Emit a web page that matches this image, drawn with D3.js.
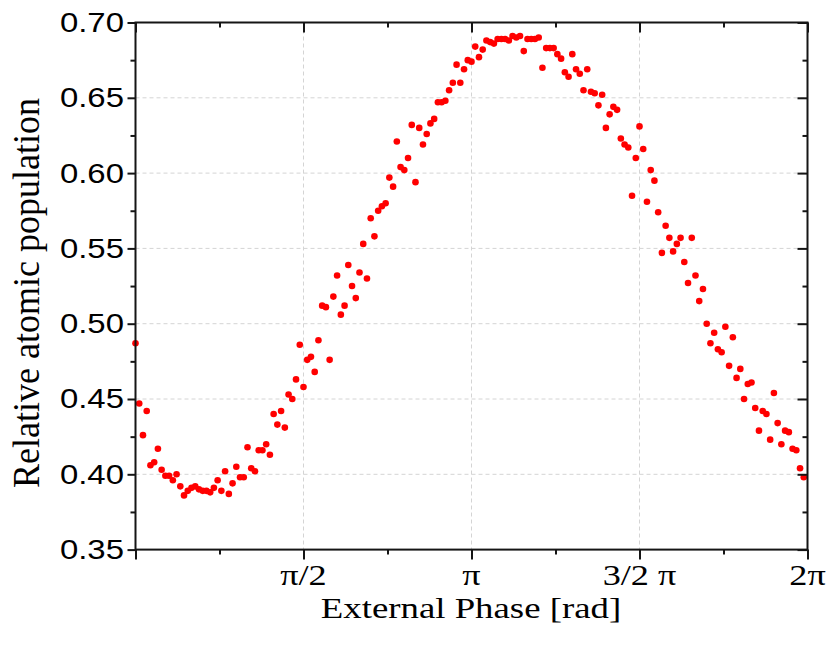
<!DOCTYPE html>
<html><head><meta charset="utf-8">
<script src="https://cdn.jsdelivr.net/npm/d3@7"></script>
<style>body{margin:0;background:#fff}</style>
</head><body><svg id="c" width="832" height="646"></svg>
<script>
const phaseDeg = [0,2,4,6,8,10,12,14,16,18,20,22,24,26,28,30,32,34,36,38,40,42,44,46,48,50,52,54,56,58,
60,62,64,66,68,70,72,74,76,78,80,82,84,86,88,90,92,94,96,98,100,102,104,106,108,110,112,114,116,118,
120,122,124,126,128,130,132,134,136,138,140,142,144,146,148,150,152,154,156,158,160,162,164,166,168,170,172,174,176,178,
180,182,184,186,188,190,192,194,196,198,200,202,204,206,208,210,212,214,216,218,220,222,224,226,228,230,232,234,236,238,
240,242,244,246,248,250,252,254,256,258,260,262,264,266,268,270,272,274,276,278,280,282,284,286,288,290,292,294,296,298,
300,302,304,306,308,310,312,314,316,318,320,322,324,326,328,330,332,334,336,338,340,342,344,346,348,350,352,354,356,358];
const population = [0.487,0.447,0.426,0.442,0.406,0.408,0.417,0.403,0.399,0.399,
0.396,0.400,0.392,0.386,0.389,0.391,0.392,0.390,0.389,0.389,
0.388,0.391,0.396,0.389,0.402,0.387,0.394,0.405,0.398,0.398,
0.418,0.404,0.402,0.416,0.416,0.420,0.413,0.440,0.433,0.442,
0.431,0.453,0.450,0.463,0.486,0.458,0.476,0.478,0.468,0.489,
0.512,0.511,0.476,0.518,0.532,0.506,0.512,0.539,0.525,0.517,
0.534,0.553,0.530,0.570,0.558,0.575,0.578,0.580,0.597,0.591,
0.621,0.604,0.602,0.610,0.632,0.594,0.630,0.619,0.626,0.633,
0.636,0.647,0.647,0.648,0.655,0.660,0.672,0.660,0.669,0.675,
0.674,0.684,0.677,0.682,0.688,0.687,0.686,0.689,0.689,0.689,
0.688,0.691,0.690,0.691,0.681,0.689,0.689,0.689,0.690,0.670,
0.683,0.683,0.683,0.679,0.676,0.667,0.664,0.679,0.669,0.666,
0.655,0.669,0.654,0.653,0.645,0.652,0.630,0.639,0.644,0.642,
0.623,0.619,0.617,0.585,0.610,0.631,0.616,0.581,0.602,0.595,
0.574,0.547,0.565,0.557,0.548,0.553,0.557,0.541,0.527,0.557,
0.532,0.515,0.523,0.500,0.487,0.494,0.483,0.481,0.498,0.472,
0.491,0.464,0.470,0.450,0.460,0.461,0.444,0.429,0.442,0.440,
0.423,0.454,0.434,0.420,0.429,0.428,0.417,0.416,0.404,0.398];
const xTickValues = [0,90,180,270,360];
const xTickLabels = ["","π/2","π","3/2 π","2π"];
const xMinorTicks = [45,135,225,315];
const yTickValues = [0.35,0.40,0.45,0.50,0.55,0.60,0.65,0.70];
const yMinorTicks = [0.375,0.425,0.475,0.525,0.575,0.625,0.675];
const xTitle = "External Phase [rad]";
const yTitle = "Relative atomic population";

const svg = d3.select("#c");
const L=135.5, R=807.5, T=22.5, B=549.6;
const x = d3.scaleLinear().domain([0,360]).range([L,R]);
const y = d3.scaleLinear().domain([0.35,0.70]).range([B,T]);
const axisColor = "#151515";

// grid
const grid = svg.append("g");
grid.selectAll("line.gx").data(xTickValues.slice(1,-1)).join("line").attr("class","gx")
  .attr("x1",d=>x(d)).attr("x2",d=>x(d)).attr("y1",T).attr("y2",B);
grid.selectAll("line.gy").data(yTickValues.slice(1,-1)).join("line").attr("class","gy")
  .attr("x1",L).attr("x2",R).attr("y1",d=>y(d)).attr("y2",d=>y(d));
grid.selectAll("line").attr("stroke","#d4d4d4").attr("stroke-width",1).attr("stroke-dasharray","4,3");

// points
svg.append("g").selectAll("circle")
  .data(phaseDeg.map((p,i)=>({p, v: population[i]})))
  .join("circle")
  .attr("cx",d=>x(d.p)).attr("cy",d=>y(d.v)).attr("r",3.3).attr("fill","#ff0000");

// axes (ticks only)
function addAxis(gen, tr){
  const g = svg.append("g").attr("transform",tr).call(gen);
  g.select(".domain").remove();
  g.selectAll("text").remove();
  g.selectAll("line").attr("stroke",axisColor).attr("stroke-width",2);
  return g;
}
addAxis(d3.axisBottom(x).tickValues(xTickValues).tickSize(10), `translate(0,${B})`);
addAxis(d3.axisBottom(x).tickValues(xMinorTicks).tickSize(5), `translate(0,${B})`);
addAxis(d3.axisTop(x).tickValues(xTickValues).tickSize(-10), `translate(0,${T})`);
addAxis(d3.axisTop(x).tickValues(xMinorTicks).tickSize(-5), `translate(0,${T})`);
addAxis(d3.axisLeft(y).tickValues(yTickValues).tickSize(8), `translate(${L},0)`);
addAxis(d3.axisLeft(y).tickValues(yMinorTicks).tickSize(5), `translate(${L},0)`);
addAxis(d3.axisRight(y).tickValues(yTickValues).tickSize(-10), `translate(${R},0)`);
addAxis(d3.axisRight(y).tickValues(yMinorTicks).tickSize(-5), `translate(${R},0)`);

// frame
svg.append("rect").attr("x",L).attr("y",T).attr("width",R-L).attr("height",B-T)
  .attr("fill","none").attr("stroke",axisColor).attr("stroke-width",2);

// y tick labels
const fmt = d3.format(".2f");
svg.append("g").selectAll("text").data(yTickValues).join("text")
  .attr("transform",d=>`translate(124,${y(d)}) scale(1.22,1)`)
  .attr("text-anchor","end").attr("dominant-baseline","central")
  .attr("font-family","'Liberation Sans', Arial, sans-serif").attr("font-size",27)
  .attr("fill","#000").text(d=>fmt(d));

// x tick labels
svg.append("g").selectAll("text").data(xTickValues.map((v,i)=>({v,l:xTickLabels[i]})).filter(d=>d.l))
  .join("text")
  .attr("transform",d=>`translate(${x(d.v)},585) scale(1.25,1)`)
  .attr("text-anchor","middle")
  .attr("font-family","'Liberation Serif', 'Times New Roman', serif").attr("font-size",29)
  .attr("fill","#000").text(d=>d.l);

// titles
svg.append("text").attr("transform",`translate(471,618) scale(1.27,1)`)
  .attr("text-anchor","middle")
  .attr("font-family","'Liberation Serif', 'Times New Roman', serif").attr("font-size",29)
  .attr("fill","#000").text(xTitle);
svg.append("text").attr("transform",`translate(39,293) scale(1.05,1) rotate(-90)`)
  .attr("text-anchor","middle")
  .attr("font-family","'Liberation Serif', 'Times New Roman', serif").attr("font-size",36)
  .attr("fill","#000").text(yTitle);
</script></body></html>
